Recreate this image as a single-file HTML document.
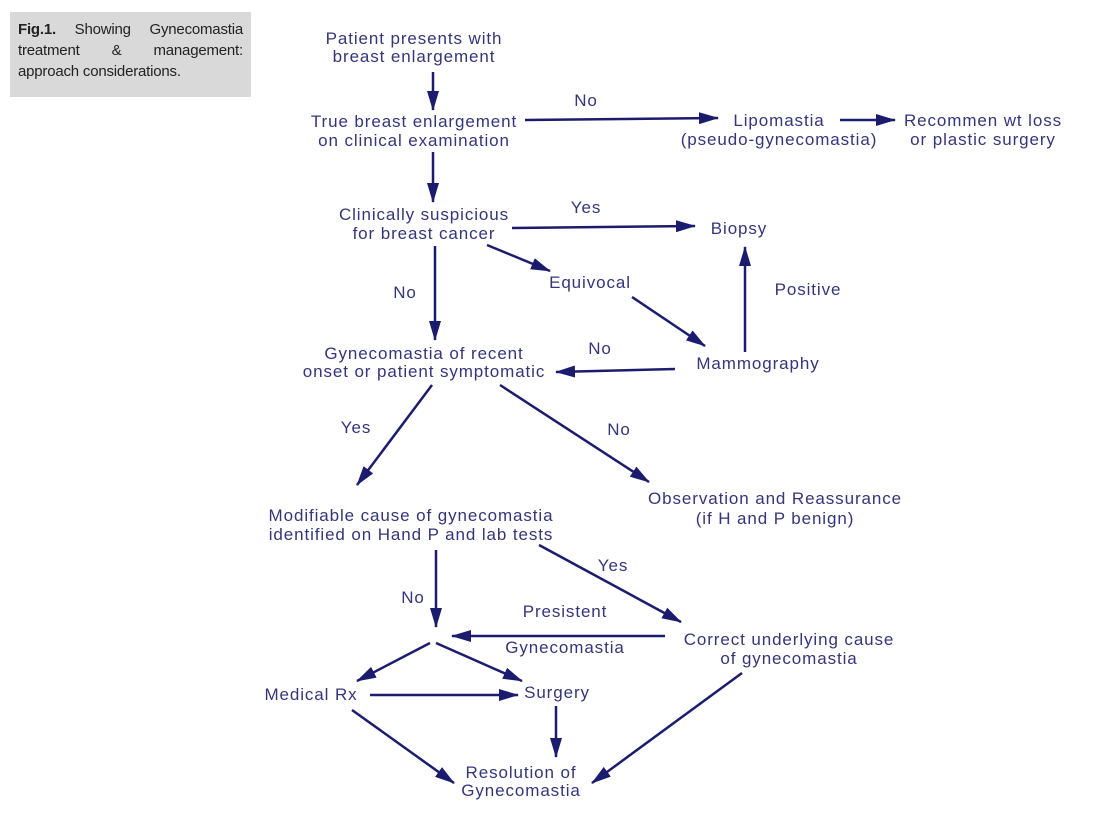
<!DOCTYPE html>
<html><head><meta charset="utf-8"><style>
html,body{margin:0;padding:0;background:#fff;width:1107px;height:816px;overflow:hidden}
.cap{position:absolute;left:10px;top:12px;width:225px;height:71px;padding:7px 8px;background:#d9d9d9;font-family:"Liberation Sans",sans-serif;font-size:15px;line-height:21px;color:#222;text-align:justify;letter-spacing:-0.2px}
svg{position:absolute;left:0;top:0}
text{font-family:"Liberation Sans",sans-serif;font-size:17px;letter-spacing:0.9px;fill:#35357a;text-anchor:middle}
</style></head><body>
<div class="cap"><b>Fig.1.</b> Showing Gynecomastia treatment &amp; management: approach considerations.</div>
<svg width="1107" height="816">
<defs>
<marker id="b" viewBox="0 0 20 12" refX="19" refY="6" markerWidth="20" markerHeight="12" orient="auto" markerUnits="userSpaceOnUse"><path d="M0,0L20,6L0,12z" fill="#1c1c6e"/></marker></defs>
<g stroke="#1c1c6e" stroke-width="2.5" fill="none" marker-end="url(#b)">
<line x1="433" y1="72" x2="433" y2="110"/>
<line x1="433" y1="152" x2="433" y2="202"/>
<line x1="525" y1="120" x2="718" y2="118"/>
<line x1="840" y1="120" x2="895" y2="120"/>
<line x1="512" y1="228" x2="695" y2="226"/>
<line x1="435" y1="246" x2="435" y2="340"/>
<line x1="487" y1="245" x2="550" y2="271"/>
<line x1="632" y1="297" x2="705" y2="346"/>
<line x1="745" y1="352" x2="745" y2="247"/>
<line x1="675" y1="369" x2="556" y2="372"/>
<line x1="432" y1="385" x2="357" y2="485"/>
<line x1="500" y1="385" x2="649" y2="482"/>
<line x1="539" y1="545" x2="681" y2="622"/>
<line x1="436" y1="550" x2="436" y2="627"/>
<line x1="665" y1="636" x2="452" y2="636"/>
<line x1="430" y1="643" x2="357" y2="681"/>
<line x1="436" y1="643" x2="522" y2="681"/>
<line x1="370" y1="695" x2="518" y2="695"/>
<line x1="556" y1="706" x2="556" y2="757"/>
<line x1="352" y1="710" x2="454" y2="783"/>
<line x1="742" y1="673" x2="592" y2="783"/>
</g>
<text x="414" y="44">Patient presents with</text><text x="414" y="62">breast enlargement</text>
<text x="414" y="127">True breast enlargement</text><text x="414" y="146">on clinical examination</text>
<text x="586" y="106">No</text>
<text x="779" y="126">Lipomastia</text><text x="779" y="145">(pseudo-gynecomastia)</text>
<text x="983" y="126">Recommen wt loss</text><text x="983" y="145">or plastic surgery</text>
<text x="424" y="220">Clinically suspicious</text><text x="424" y="239">for breast cancer</text>
<text x="586" y="213">Yes</text>
<text x="739" y="234">Biopsy</text>
<text x="590" y="288">Equivocal</text>
<text x="808" y="295">Positive</text>
<text x="405" y="298">No</text>
<text x="424" y="359">Gynecomastia of recent</text><text x="424" y="377">onset or patient symptomatic</text>
<text x="600" y="354">No</text>
<text x="758" y="369">Mammography</text>
<text x="356" y="433">Yes</text><text x="619" y="435">No</text>
<text x="775" y="504">Observation and Reassurance</text><text x="775" y="524">(if H and P benign)</text>
<text x="411" y="521">Modifiable cause of gynecomastia</text><text x="411" y="540">identified on Hand P and lab tests</text>
<text x="613" y="571">Yes</text><text x="413" y="603">No</text>
<text x="565" y="617">Presistent</text><text x="565" y="653">Gynecomastia</text>
<text x="789" y="645">Correct underlying cause</text><text x="789" y="664">of gynecomastia</text>
<text x="311" y="700">Medical Rx</text><text x="557" y="698">Surgery</text>
<text x="521" y="778">Resolution of</text><text x="521" y="796">Gynecomastia</text>
</svg>
</body></html>
